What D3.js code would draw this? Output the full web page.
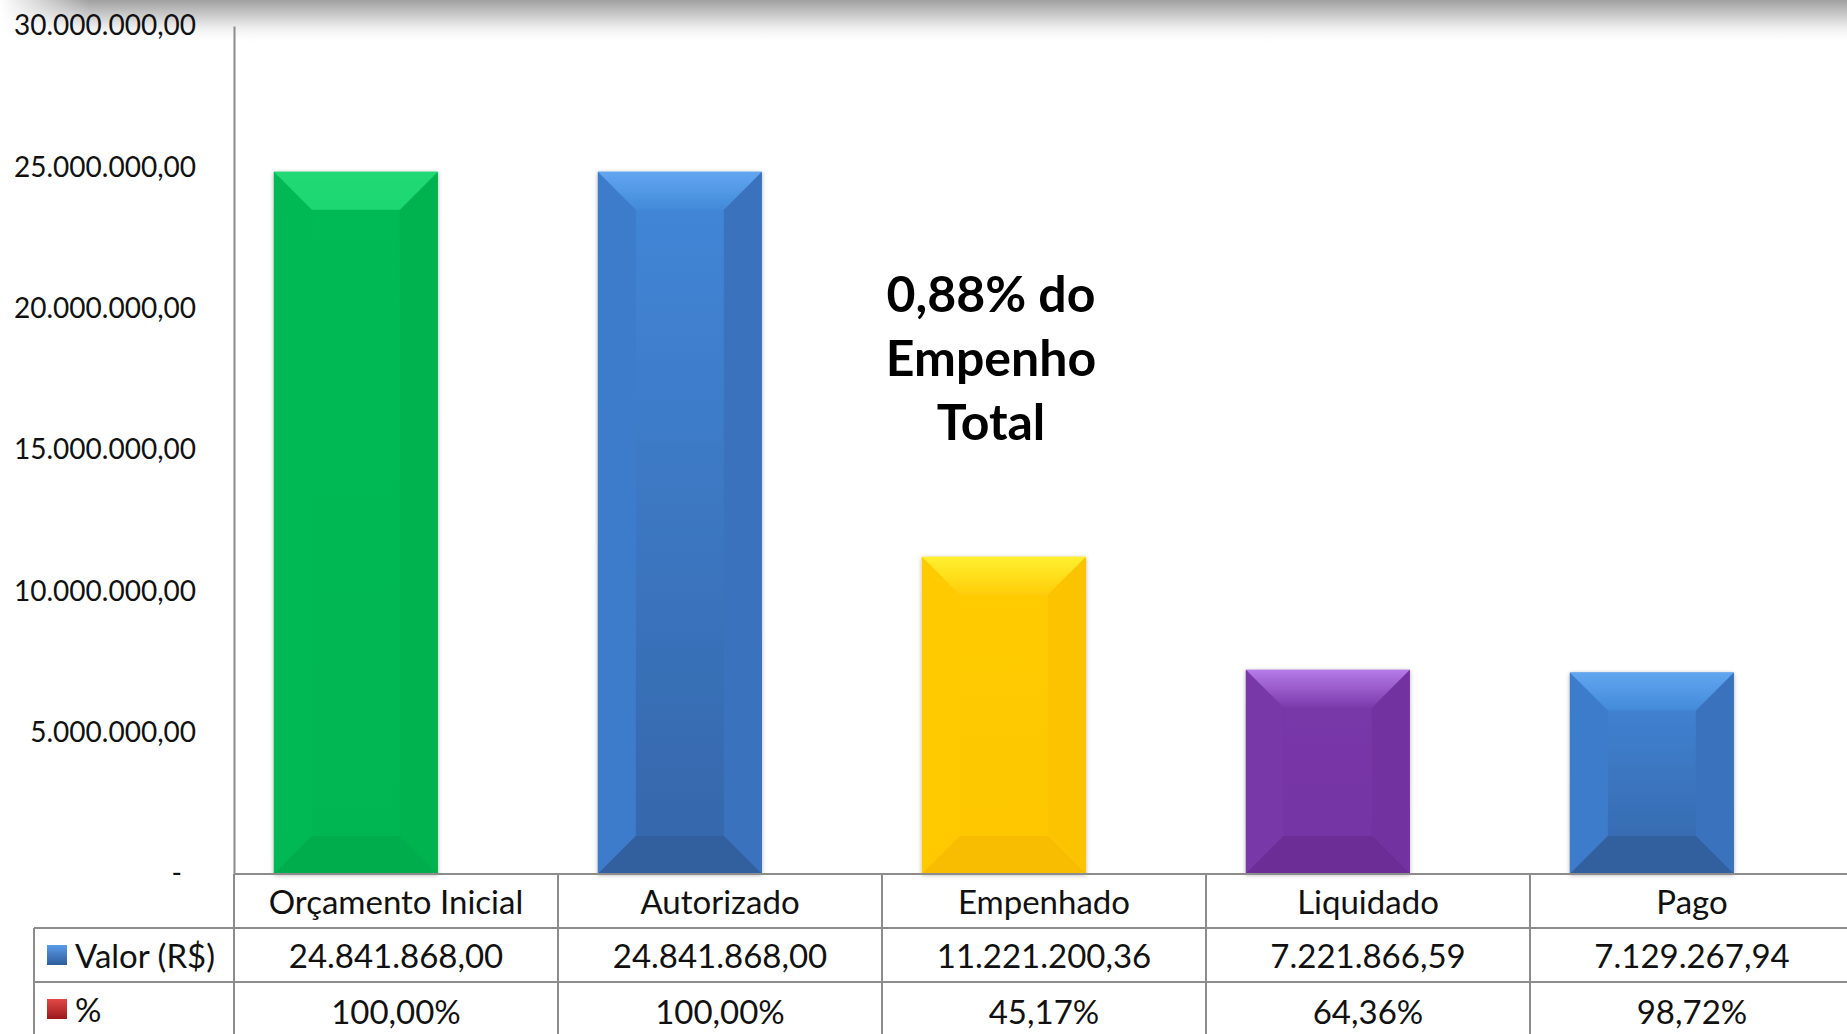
<!DOCTYPE html>
<html>
<head>
<meta charset="utf-8">
<script src="https://cdn.jsdelivr.net/npm/d3@7"></script>
<style>
  body { margin: 0; background: #fff; }
  svg { display: block; font-family: Lato, "Open Sans", sans-serif; }
</style>
</head>
<body>
<svg id="chart"></svg>
<script>
// dados
const categories = ["Orçamento Inicial", "Autorizado", "Empenhado", "Liquidado", "Pago"];
const valores = [24841868.00, 24841868.00, 11221200.36, 7221866.59, 7129267.94];
const percentuais = [100.00, 100.00, 45.17, 64.36, 98.72];
const yTicks = [0, 5000000, 10000000, 15000000, 20000000, 25000000, 30000000];
const rowLabels = ["Valor (R$)", "%"];
const annotation = ["0,88% do", "Empenho", "Total"];

// cores das barras
const palette = [
  { main: "#06ba54", mainDark: "#05b652", top: "#20d974", topEnd: "#1fd772", left: "#06b954", right: "#05b350", bottom: "#05ad4d" },
  { main: "#4287d9", mainDark: "#3566a9", top: "#62a6f0", topEnd: "#428ad9", left: "#3e7ccb", right: "#3a72bd", bottom: "#33609f" },
  { main: "#ffcc05", mainDark: "#fdc602", top: "#fff030", topEnd: "#ffcd08", left: "#ffca04", right: "#fcc302", bottom: "#f8bd00" },
  { main: "#7a38a9", mainDark: "#7433a3", top: "#b57be8", topEnd: "#7c3aab", left: "#7837a7", right: "#7232a0", bottom: "#6c2d96" },
  { main: "#4287d9", mainDark: "#3566a9", top: "#62a6f0", topEnd: "#428ad9", left: "#3e7ccb", right: "#3a72bd", bottom: "#33609f" }
];

const width = 1847, height = 1034;
const margin = { top: 26, left: 234, bottom: 160 };
const baseY = height - margin.bottom;   // 874
const rowH = 54;
const tableLeft = 34;

const ptBR = d3.formatLocale({ decimal: ",", thousands: ".", grouping: [3], currency: ["R$", ""] });
const fmtNum = ptBR.format(",.2f");
const fmtPct = v => ptBR.format(",.2f")(v) + "%";

const svg = d3.select("#chart").attr("width", width).attr("height", height);
const defs = svg.append("defs");

// sombra do topo do slide
const topGrad = defs.append("linearGradient").attr("id", "topShade")
  .attr("x1", 0).attr("y1", 0).attr("x2", 0).attr("y2", 1);
topGrad.append("stop").attr("offset", 0).attr("stop-color", "#a0a0a0");
topGrad.append("stop").attr("offset", 0.45).attr("stop-color", "#d8d8d8");
topGrad.append("stop").attr("offset", 1).attr("stop-color", "#fff").attr("stop-opacity", 0);
const leftFade = defs.append("linearGradient").attr("id", "leftFade")
  .attr("x1", 0).attr("y1", 0).attr("x2", 1).attr("y2", 0);
leftFade.append("stop").attr("offset", 0).attr("stop-color", "#fff").attr("stop-opacity", 1);
leftFade.append("stop").attr("offset", 1).attr("stop-color", "#fff").attr("stop-opacity", 0);

svg.append("rect").attr("x", 0).attr("y", 0).attr("width", width).attr("height", 44)
  .attr("fill", "url(#topShade)");
svg.append("rect").attr("x", 0).attr("y", 0).attr("width", 90).attr("height", 44)
  .attr("fill", "url(#leftFade)");

const shadow = defs.append("filter").attr("id", "barShadow")
  .attr("x", "-10%").attr("y", "-10%").attr("width", "120%").attr("height", "120%");
shadow.append("feDropShadow").attr("dx", 0).attr("dy", 1).attr("stdDeviation", 2)
  .attr("flood-color", "#000").attr("flood-opacity", 0.3);

palette.forEach((p, i) => {
  const g = defs.append("linearGradient").attr("id", "barGrad" + i)
    .attr("x1", 0).attr("y1", 0).attr("x2", 0).attr("y2", 1);
  g.append("stop").attr("offset", 0).attr("stop-color", p.main);
  g.append("stop").attr("offset", 1).attr("stop-color", p.mainDark);
  const t = defs.append("linearGradient").attr("id", "topGrad" + i)
    .attr("x1", 0).attr("y1", 0).attr("x2", 0).attr("y2", 1);
  t.append("stop").attr("offset", 0).attr("stop-color", p.top);
  t.append("stop").attr("offset", 1).attr("stop-color", p.topEnd);
});

// escalas
const xCol = d3.scaleBand()
  .domain(categories)
  .range([margin.left, margin.left + 5 * 324]);

const barOffset = xCol.step() * 0.123;
const barWidth = xCol.step() * 0.506;

const y = d3.scaleLinear()
  .domain([0, 30000000])
  .range([baseY, margin.top]);

// eixo y
const yAxis = g =>
  g.attr("transform", `translate(${margin.left},0)`)
    .call(d3.axisLeft(y).tickValues(yTicks).tickSize(0).tickPadding(38)
      .tickFormat(d => d === 0 ? "-" : fmtNum(d)))
    .call(g => g.select(".domain").attr("stroke", "#8c8c8c").attr("stroke-width", 2))
    .call(g => g.selectAll("text")
      .attr("font-family", "Lato, sans-serif")
      .attr("font-size", 28)
      .attr("fill", "#111"))
    .call(g => g.selectAll(".tick").filter(d => d === 0).select("text").attr("dx", -14));

svg.append("g").call(yAxis);

// barras com bisel
const bevel = 38;
const bars = svg.append("g").selectAll("g")
  .data(valores)
  .join("g")
  .attr("filter", "url(#barShadow)");

bars.each(function (v, i) {
  const g = d3.select(this);
  const p = palette[i];
  const x0 = xCol(categories[i]) + barOffset;
  const x1 = x0 + barWidth;
  const y0 = y(v);
  const y1 = y(0);
  const b = Math.min(bevel, (y1 - y0) / 2);
  g.append("rect").attr("x", x0).attr("y", y0).attr("width", x1 - x0).attr("height", y1 - y0)
    .attr("fill", `url(#barGrad${i})`);
  const poly = (pts, fill) => g.append("polygon")
    .attr("points", pts.map(d => d.join(",")).join(" ")).attr("fill", fill);
  poly([[x0, y0], [x0 + b, y0 + b], [x0 + b, y1 - b], [x0, y1]], p.left);
  poly([[x1, y0], [x1 - b, y0 + b], [x1 - b, y1 - b], [x1, y1]], p.right);
  poly([[x0, y0], [x1, y0], [x1 - b, y0 + b], [x0 + b, y0 + b]], `url(#topGrad${i})`);
  poly([[x0, y1], [x1, y1], [x1 - b, y1 - b], [x0 + b, y1 - b]], p.bottom);
});

// anotação
svg.append("text")
  .attr("x", 991)
  .attr("text-anchor", "middle")
  .attr("font-family", "Lato, sans-serif")
  .attr("font-weight", "bold")
  .attr("font-size", 50)
  .attr("fill", "#000")
  .selectAll("tspan")
  .data(annotation)
  .join("tspan")
  .attr("x", 991)
  .attr("y", (d, i) => 293 + i * 64)
  .attr("dominant-baseline", "central")
  .text(d => d);

// tabela de dados
const table = svg.append("g");
const lineColor = "#8c8c8c";

// linhas horizontais
table.append("line").attr("x1", margin.left).attr("x2", width)
  .attr("y1", baseY).attr("y2", baseY).attr("stroke", lineColor).attr("stroke-width", 2);
[1, 2].forEach(r => {
  table.append("line").attr("x1", tableLeft).attr("x2", width)
    .attr("y1", baseY + r * rowH).attr("y2", baseY + r * rowH)
    .attr("stroke", lineColor).attr("stroke-width", 2);
});
// linhas verticais
table.append("line").attr("x1", tableLeft).attr("x2", tableLeft)
  .attr("y1", baseY + rowH).attr("y2", height).attr("stroke", lineColor).attr("stroke-width", 2);
categories.forEach(c => {
  table.append("line").attr("x1", xCol(c)).attr("x2", xCol(c))
    .attr("y1", baseY).attr("y2", height).attr("stroke", lineColor).attr("stroke-width", 2);
});

const cellText = (sel) => sel
  .attr("text-anchor", "middle")
  .attr("dominant-baseline", "central")
  .attr("font-family", "Lato, sans-serif")
  .attr("font-size", 33)
  .attr("fill", "#111");

table.append("g").selectAll("text").data(categories).join("text")
  .call(cellText)
  .attr("x", d => xCol(d) + xCol.bandwidth() / 2)
  .attr("y", baseY + rowH / 2)
  .text(d => d);

table.append("g").selectAll("text").data(valores).join("text")
  .call(cellText)
  .attr("x", (d, i) => xCol(categories[i]) + xCol.bandwidth() / 2)
  .attr("y", baseY + rowH * 1.5)
  .text(d => fmtNum(d));

table.append("g").selectAll("text").data(percentuais).join("text")
  .call(cellText)
  .attr("x", (d, i) => xCol(categories[i]) + xCol.bandwidth() / 2)
  .attr("y", baseY + rowH * 2.5 + 2)
  .text(d => fmtPct(d));

// legenda das linhas
const keyColors = [["#5b9be8", "#2d5c9c"], ["#e24848", "#9c1a1a"]];
keyColors.forEach((c, i) => {
  const g = defs.append("linearGradient").attr("id", "key" + i)
    .attr("x1", 0).attr("y1", 0).attr("x2", 0).attr("y2", 1);
  g.append("stop").attr("offset", 0).attr("stop-color", c[0]);
  g.append("stop").attr("offset", 1).attr("stop-color", c[1]);
});

const keys = table.append("g").selectAll("g").data(rowLabels).join("g")
  .attr("transform", (d, i) => `translate(0,${baseY + rowH * (i + 1.5)})`);
keys.append("rect")
  .attr("x", 47).attr("y", -10).attr("width", 20).attr("height", 20)
  .attr("fill", (d, i) => `url(#key${i})`);
keys.append("text")
  .attr("x", 75)
  .attr("dominant-baseline", "central")
  .attr("font-family", "Lato, sans-serif")
  .attr("font-size", 33)
  .attr("fill", "#111")
  .text(d => d);
</script>
</body>
</html>
